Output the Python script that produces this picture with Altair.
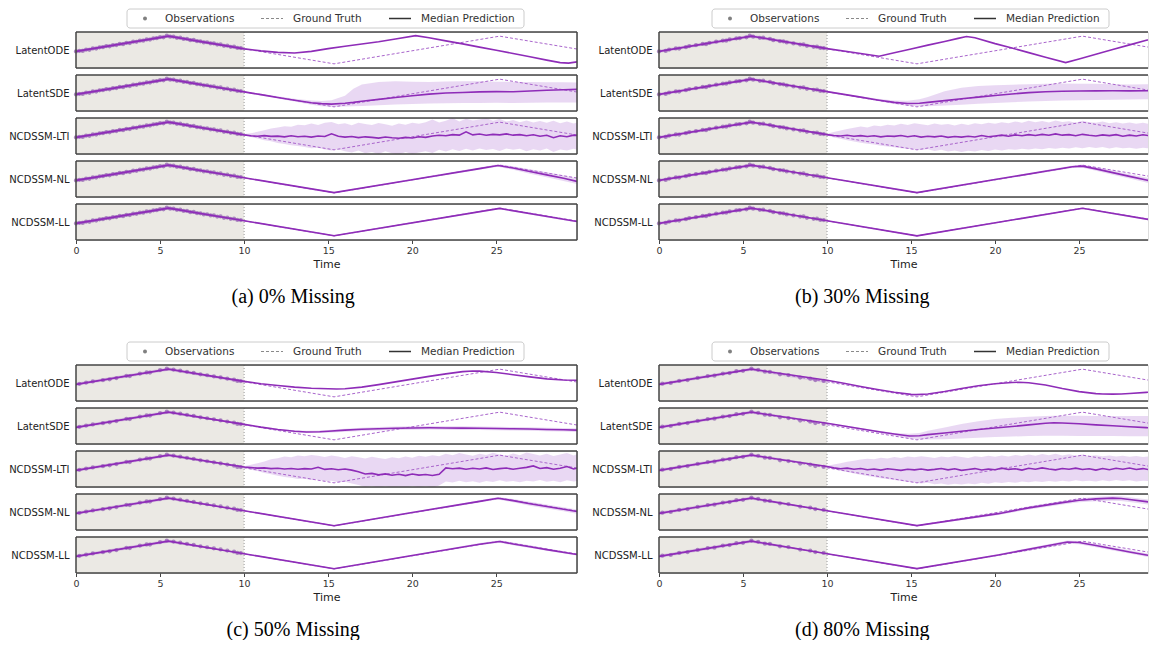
import altair as alt
import pandas as pd

# ---------------- data ----------------
MODELS = ["LatentODE", "LatentSDE", "NCDSSM-LTI", "NCDSSM-NL", "NCDSSM-LL"]
CAPTIONS = ["(a) 0% Missing", "(b) 30% Missing", "(c) 50% Missing", "(d) 80% Missing"]
LEGEND_LABELS = ["Observations", "Ground Truth", "Median Prediction"]
X_TICKS = [0, 5, 10, 15, 20, 25]
Y_DOM = [-1.3, 1.3]
CTX_START, CTX_END = 0.0, 10.0

GT_T = [0.0, 5.5, 15.35, 25.2, 29.8]
GT_V = [-0.12, 1.0, -1.0, 1.0, 0.07]

CTX_T = [0.0, 5.5, 10.0]
CTX_MED = [-0.1, 1.0]
CTX_LO = [-0.22, 0.88, -0.02]
CTX_HI = [0.02, 1.12, 0.2]

OBS_T_0 = [0.0, 0.2, 0.4, 0.6, 0.8, 1.0, 1.2, 1.4, 1.6, 1.8, 2.0, 2.2, 2.4, 2.6, 2.8, 3.0, 3.2, 3.4, 3.6, 3.8,
           4.0, 4.2, 4.4, 4.6, 4.8, 5.0, 5.2, 5.4, 5.6, 5.8, 6.0, 6.2, 6.4, 6.6, 6.8, 7.0, 7.2, 7.4, 7.6, 7.8,
           8.0, 8.2, 8.4, 8.6, 8.8, 9.0, 9.2, 9.4, 9.6, 9.8]
OBS_V_0 = [-0.10, -0.06, -0.07, 0.03, 0.01, 0.11, 0.10, 0.19, 0.20, 0.28,
           0.27, 0.35, 0.36, 0.44, 0.42, 0.52, 0.50, 0.60, 0.59, 0.68,
           0.67, 0.76, 0.75, 0.84, 0.85, 0.93, 0.92, 1.03, 0.96, 0.97,
           0.88, 0.89, 0.80, 0.81, 0.71, 0.73, 0.64, 0.63, 0.55, 0.56,
           0.47, 0.48, 0.39, 0.40, 0.30, 0.32, 0.23, 0.24, 0.15, 0.14]
OBS_T_30 = [0.0, 0.4, 0.6, 1.0, 1.2, 1.6, 1.8, 2.2, 2.6, 2.8, 3.0, 3.4, 3.8, 4.0, 4.2, 4.6, 4.8, 5.2,
            5.4, 5.6, 6.0, 6.2, 6.6, 6.8, 7.2, 7.4, 7.6, 8.0, 8.4, 8.6, 8.8, 9.2, 9.4, 9.6, 9.8]
OBS_V_30 = [-0.10, -0.07, 0.03, 0.11, 0.10, 0.20, 0.28, 0.35, 0.44, 0.42, 0.52, 0.60, 0.68, 0.67, 0.76,
            0.84, 0.85, 0.92, 1.03, 0.96, 0.88, 0.89, 0.81, 0.71, 0.64, 0.63, 0.55, 0.47, 0.39, 0.40,
            0.30, 0.23, 0.24, 0.15, 0.14]
OBS_T_50 = [0.2, 0.6, 1.0, 1.6, 2.0, 2.4, 3.0, 3.2, 3.8, 4.2, 4.4, 5.0, 5.4, 5.8, 6.2, 6.6, 7.0, 7.4,
            7.8, 8.2, 8.6, 9.0, 9.4, 9.6, 9.8]
OBS_V_50 = [-0.06, 0.03, 0.11, 0.20, 0.27, 0.36, 0.52, 0.50, 0.68, 0.76, 0.75, 0.93, 1.03, 0.97, 0.89,
            0.81, 0.73, 0.63, 0.56, 0.48, 0.40, 0.32, 0.24, 0.15, 0.14]
OBS_T_80 = [0.2, 0.7, 1.2, 1.7, 2.3, 2.9, 3.3, 3.8, 4.2, 4.6, 5.0, 5.5, 5.9, 6.3, 6.6, 7.2, 7.7, 8.4,
            9.0, 9.3, 9.8]
OBS_V_80 = [-0.05, 0.0, 0.15, 0.21, 0.37, 0.5, 0.53, 0.68, 0.72, 0.85, 0.88, 1.04, 0.95, 0.82, 0.8,
            0.63, 0.57, 0.39, 0.31, 0.21, 0.15]

T_LTI = [10.0, 10.4, 10.8, 11.2, 11.6, 12.0, 12.4, 12.8, 13.2, 13.6, 14.0, 14.4, 14.8, 15.2, 15.6,
         16.0, 16.4, 16.8, 17.2, 17.6, 18.0, 18.4, 18.8, 19.2, 19.6, 20.0, 20.4, 20.8, 21.2, 21.6,
         22.0, 22.4, 22.8, 23.2, 23.6, 24.0, 24.4, 24.8, 25.2, 25.6, 26.0, 26.4, 26.8, 27.2, 27.6,
         28.0, 28.4, 28.8, 29.2, 29.6, 29.8]

# ---- (a) 0% missing ----
A_ODE_T = [10, 11, 12, 13, 14, 15, 16, 17, 18, 19, 20.2, 21, 22, 23, 24, 25, 26, 27, 28, 28.8, 29.3, 29.8]
A_ODE_M = [0.08, -0.06, -0.17, -0.22, -0.1, 0.1, 0.27, 0.43, 0.6, 0.8, 1.04, 0.88, 0.66, 0.44, 0.21,
           -0.02, -0.25, -0.49, -0.73, -0.91, -0.95, -0.86]
A_SDE_T = [10, 11, 12, 13, 14, 14.6, 15.2, 16, 16.5, 17, 18, 19, 20, 21, 22, 23, 24, 25, 26, 27, 28, 29, 29.8]
A_SDE_M = [0.08, -0.12, -0.32, -0.52, -0.7, -0.77, -0.8, -0.74, -0.68, -0.6, -0.46, -0.32, -0.2, -0.08,
           0.0, 0.04, 0.08, 0.1, 0.09, 0.14, 0.2, 0.23, 0.26]
A_SDE_LO = [0.04, -0.18, -0.4, -0.62, -0.84, -0.95, -1.0, -0.98, -0.96, -0.93, -0.88, -0.83, -0.79, -0.76,
            -0.74, -0.73, -0.72, -0.71, -0.72, -0.7, -0.69, -0.68, -0.68]
A_SDE_HI = [0.12, -0.06, -0.24, -0.42, -0.55, -0.58, -0.52, -0.2, 0.3, 0.62, 0.8, 0.84, 0.82, 0.8, 0.83,
            0.85, 0.84, 0.82, 0.8, 0.8, 0.78, 0.78, 0.76]
A_LTI_M = [0.08, 0.02, -0.02, 0.03, -0.03, -0.01, -0.06, 0.02, -0.05, -0.02,
           -0.08, 0.0, -0.04, 0.16, -0.02, -0.08, -0.04, -0.12, -0.06, -0.1,
           -0.15, -0.07, -0.13, -0.16, -0.1, -0.14, -0.05, -0.1, 0.0, 0.05,
           0.02, 0.1, 0.06, 0.3, 0.08, 0.14, 0.05, 0.12, 0.08, 0.15,
           0.06, 0.1, 0.02, 0.09, -0.02, 0.05, -0.12, 0.02, -0.05, 0.06,
           0.04]
A_LTI_HI = [0.14, 0.2, 0.3, 0.42, 0.55, 0.62, 0.7, 0.66, 0.82, 0.78,
            0.9, 0.8, 0.95, 1.02, 0.85, 0.92, 0.78, 0.96, 0.86, 0.8,
            0.93, 0.84, 0.74, 0.9, 0.82, 0.95, 0.88, 1.0, 1.2, 0.98,
            1.1, 1.3, 1.05, 1.25, 1.12, 1.2, 1.3, 1.1, 1.22, 1.05,
            1.15, 1.0, 1.12, 0.98, 1.08, 0.95, 1.1, 0.92, 1.05, 0.9,
            0.98]
A_LTI_LO = [0.02, -0.08, -0.18, -0.3, -0.38, -0.5, -0.58, -0.66, -0.72, -0.8,
            -0.88, -0.85, -0.98, -1.05, -0.95, -1.1, -1.2, -1.05, -1.25, -1.15,
            -1.3, -1.1, -1.25, -1.35, -1.15, -1.3, -1.2, -1.1, -1.22, -1.0,
            -1.12, -0.95, -1.08, -0.92, -1.05, -0.9, -1.02, -0.94, -1.08, -0.9,
            -1.0, -0.92, -1.1, -0.95, -1.05, -0.9, -1.15, -0.98, -1.05, -0.92,
            -1.0]
A_NL_T = [10, 15.35, 20, 24, 25.1, 26, 27, 28, 29, 29.8]
A_NL_M = [0.09, -0.98, -0.05, 0.75, 0.97, 0.79, 0.54, 0.3, 0.05, -0.17]
A_NL_LO = [0.05, -1.03, -0.11, 0.67, 0.88, 0.66, 0.38, 0.12, -0.14, -0.36]
A_NL_HI = [0.13, -0.93, 0.01, 0.83, 1.06, 0.92, 0.7, 0.48, 0.26, 0.06]
A_LL_T = [10, 15.35, 25.2, 29.8]
A_LL_M = [0.09, -0.99, 0.98, 0.03]
A_LL_LO = [0.05, -1.04, 0.92, -0.03]
A_LL_HI = [0.13, -0.94, 1.04, 0.09]

# ---- (b) 30% missing ----
B_ODE_T = [10, 11.5, 13.1, 14, 15, 16, 17, 17.8, 18.3, 18.8, 20, 21, 22, 23, 24.2, 25, 26, 27, 28, 29, 29.8]
B_ODE_M = [0.1, -0.16, -0.45, -0.2, 0.07, 0.35, 0.62, 0.84, 0.97, 0.88, 0.46, 0.14, -0.19, -0.52, -0.91,
           -0.65, -0.31, 0.03, 0.37, 0.7, 0.96]
B_SDE_T = [10, 11, 12, 13, 14, 14.8, 15.5, 16, 17, 18, 19, 20, 21, 22, 23, 24, 25, 26, 27, 28, 29, 29.8]
B_SDE_M = [0.1, -0.1, -0.3, -0.5, -0.68, -0.76, -0.74, -0.68, -0.55, -0.42, -0.3, -0.18, -0.07, 0.03,
           0.09, 0.13, 0.14, 0.15, 0.16, 0.15, 0.16, 0.15]
B_SDE_LO = [0.06, -0.15, -0.36, -0.58, -0.8, -0.92, -0.96, -0.95, -0.9, -0.84, -0.78, -0.72, -0.66, -0.61,
            -0.57, -0.54, -0.52, -0.5, -0.48, -0.47, -0.46, -0.46]
B_SDE_HI = [0.14, -0.05, -0.24, -0.42, -0.55, -0.56, -0.46, -0.28, 0.12, 0.38, 0.5, 0.56, 0.6, 0.63, 0.66,
            0.68, 0.67, 0.66, 0.64, 0.62, 0.63, 0.62]
B_LTI_M = [0.1, 0.04, 0.0, 0.05, -0.02, 0.03, -0.04, 0.02, -0.06, 0.0,
           -0.03, 0.04, -0.05, 0.02, -0.08, -0.02, -0.06, 0.0, -0.1, -0.04,
           -0.08, -0.02, -0.07, 0.03, -0.05, 0.0, 0.06, -0.02, 0.08, 0.02,
           0.1, 0.04, 0.12, 0.05, 0.15, 0.06, 0.1, 0.02, 0.12, 0.05,
           0.0, 0.08, 0.03, 0.1, -0.02, 0.06, 0.0, 0.09, 0.02, 0.07,
           0.04]
B_LTI_HI = [0.16, 0.28, 0.4, 0.5, 0.6, 0.68, 0.62, 0.75, 0.7, 0.82,
            0.76, 0.88, 0.8, 0.92, 0.84, 0.78, 0.9, 0.82, 0.86, 0.76,
            0.88, 0.8, 0.92, 0.84, 0.95, 0.88, 1.0, 0.92, 1.05, 0.96,
            1.1, 1.0, 1.08, 0.98, 1.12, 1.02, 1.06, 0.96, 1.1, 1.0,
            0.95, 1.05, 0.92, 1.0, 0.9, 0.98, 0.88, 0.96, 0.86, 0.94,
            0.9]
B_LTI_LO = [0.04, -0.1, -0.2, -0.3, -0.4, -0.48, -0.56, -0.62, -0.7, -0.76,
            -0.82, -0.88, -0.92, -0.98, -1.02, -0.96, -1.08, -1.0, -1.12, -1.04,
            -1.15, -1.06, -1.12, -1.02, -1.08, -0.98, -1.04, -0.95, -1.0, -0.92,
            -0.98, -0.9, -0.95, -0.86, -0.92, -0.84, -0.9, -0.82, -0.88, -0.8,
            -0.86, -0.8, -0.9, -0.82, -0.88, -0.84, -0.92, -0.85, -0.9, -0.84,
            -0.88]
B_NL_T = [10, 15.35, 20, 24.6, 25.2, 26, 27, 28, 29, 29.8]
B_NL_M = [0.09, -0.98, -0.04, 0.88, 0.93, 0.73, 0.46, 0.19, -0.07, -0.27]
B_NL_LO = [0.05, -1.03, -0.1, 0.79, 0.82, 0.6, 0.31, 0.03, -0.25, -0.46]
B_NL_HI = [0.13, -0.93, 0.02, 0.97, 1.04, 0.86, 0.61, 0.35, 0.11, -0.08]
B_LL_T = [10, 15.35, 25.2, 29.8]
B_LL_M = [0.09, -1.0, 0.99, 0.05]
B_LL_LO = [0.05, -1.05, 0.93, -0.01]
B_LL_HI = [0.13, -0.95, 1.05, 0.11]

# ---- (c) 50% missing ----
C_ODE_T = [10, 11, 12, 13, 14, 15, 15.5, 16, 17, 18, 19, 20, 21, 22, 23, 23.6, 24, 25, 26, 27, 28, 29, 29.8]
C_ODE_M = [0.12, -0.05, -0.18, -0.3, -0.38, -0.42, -0.43, -0.41, -0.3, -0.12, 0.08, 0.28, 0.48, 0.66,
           0.82, 0.87, 0.86, 0.76, 0.6, 0.44, 0.3, 0.22, 0.2]
C_SDE_T = [10, 11, 12, 13, 13.7, 14.5, 15, 16, 17, 18, 19, 20, 21, 22, 23, 24, 25, 26, 27, 28, 29, 29.8]
C_SDE_M = [0.12, -0.08, -0.25, -0.38, -0.43, -0.42, -0.38, -0.3, -0.24, -0.2, -0.16, -0.14, -0.13, -0.14,
           -0.15, -0.16, -0.18, -0.2, -0.22, -0.25, -0.27, -0.3]
C_SDE_LO = [0.08, -0.13, -0.31, -0.45, -0.51, -0.51, -0.48, -0.41, -0.36, -0.32, -0.29, -0.27, -0.26,
            -0.27, -0.28, -0.29, -0.31, -0.33, -0.35, -0.38, -0.4, -0.43]
C_SDE_HI = [0.16, -0.03, -0.19, -0.31, -0.35, -0.33, -0.28, -0.19, -0.12, -0.08, -0.04, -0.01, 0.0,
            -0.01, -0.02, -0.03, -0.05, -0.07, -0.09, -0.12, -0.14, -0.17]
C_LTI_M = [0.15, 0.1, 0.06, 0.08, 0.03, 0.05, 0.0, 0.04, -0.02, 0.03,
           0.0, 0.12, -0.03, 0.02, -0.05, 0.0, -0.08, -0.2, -0.36, -0.32,
           -0.42, -0.35, -0.45, -0.38, -0.48, -0.36, -0.44, -0.4, -0.47, -0.38,
           0.08, 0.02, 0.06, -0.02, 0.05, 0.0, 0.08, -0.04, 0.03, 0.07,
           -0.02, 0.05, 0.12, 0.22, 0.04, 0.1, -0.02, 0.06, 0.18, 0.0,
           0.05]
C_LTI_HI = [0.2, 0.3, 0.42, 0.55, 0.7, 0.78, 0.9, 0.85, 0.98, 0.92,
            1.02, 0.95, 0.86, 0.98, 0.9, 0.8, 0.92, 0.84, 0.76, 0.88,
            0.8, 0.72, 0.85, 0.78, 0.9, 0.82, 0.95, 0.88, 1.0, 0.92,
            1.1, 1.0, 1.15, 1.05, 0.95, 1.1, 1.02, 1.18, 1.05, 0.96,
            1.12, 1.0, 1.2, 1.08, 0.98, 1.1, 0.94, 1.05, 1.15, 0.98,
            1.06]
C_LTI_LO = [0.08, -0.05, -0.15, -0.28, -0.38, -0.48, -0.58, -0.64, -0.72, -0.7,
            -0.8, -0.76, -0.88, -0.84, -0.95, -0.92, -1.05, -1.15, -1.3, -1.22,
            -1.35, -1.25, -1.35, -1.28, -1.35, -1.22, -1.32, -1.25, -1.35, -1.2,
            -0.9, -0.98, -0.85, -0.95, -0.88, -1.0, -0.86, -0.94, -0.82, -0.92,
            -0.86, -0.96, -0.84, -0.9, -0.8, -0.92, -0.85, -0.95, -0.82, -0.9,
            -0.86]
C_NL_T = [10, 15.35, 20, 24, 25.1, 26, 27, 28, 29, 29.8]
C_NL_M = [0.09, -0.99, -0.04, 0.77, 0.99, 0.82, 0.6, 0.4, 0.2, 0.03]
C_NL_LO = [0.05, -1.04, -0.1, 0.69, 0.9, 0.7, 0.46, 0.25, 0.05, -0.12]
C_NL_HI = [0.13, -0.94, 0.02, 0.85, 1.08, 0.94, 0.74, 0.55, 0.35, 0.18]
C_LL_T = [10, 15.35, 20, 24, 25.2, 26, 27, 28, 29.8]
C_LL_M = [0.09, -0.99, -0.04, 0.78, 0.97, 0.8, 0.6, 0.39, 0.03]
C_LL_LO = [0.05, -1.04, -0.09, 0.7, 0.88, 0.7, 0.5, 0.31, -0.03]
C_LL_HI = [0.13, -0.94, 0.01, 0.86, 1.06, 0.9, 0.7, 0.47, 0.09]

# ---- (d) 80% missing ----
D_ODE_T = [10, 11, 12, 13, 14, 15, 15.3, 16, 17, 18, 19, 20, 21, 21.4, 22, 23, 24, 25, 26, 26.4, 27, 27.5,
           28, 29, 29.8]
D_ODE_M = [0.2, -0.02, -0.25, -0.47, -0.67, -0.82, -0.84, -0.8, -0.62, -0.4, -0.2, -0.05, 0.04, 0.05, 0.02,
           -0.15, -0.4, -0.62, -0.77, -0.79, -0.8, -0.79, -0.76, -0.68, -0.6]
D_SDE_T = [10, 11, 12, 13, 14, 14.9, 15.5, 16, 17, 18, 19, 20, 21, 22, 23, 23.5, 24, 25, 26, 27, 28, 29, 29.8]
D_SDE_M = [0.2, 0.0, -0.2, -0.4, -0.58, -0.72, -0.7, -0.62, -0.5, -0.38, -0.25, -0.14, -0.04, 0.08, 0.2,
           0.24, 0.22, 0.16, 0.08, 0.02, -0.05, -0.12, -0.17]
D_SDE_LO = [0.16, -0.05, -0.26, -0.47, -0.68, -0.9, -0.96, -0.97, -0.95, -0.9, -0.85, -0.8, -0.76, -0.72,
            -0.7, -0.7, -0.71, -0.72, -0.72, -0.73, -0.74, -0.74, -0.75]
D_SDE_HI = [0.24, 0.05, -0.14, -0.33, -0.5, -0.56, -0.5, -0.35, -0.1, 0.15, 0.35, 0.5, 0.6, 0.66, 0.72,
            0.74, 0.74, 0.74, 0.73, 0.72, 0.72, 0.72, 0.72]
D_LTI_M = [0.18, 0.08, 0.02, 0.06, -0.02, 0.04, -0.05, 0.0, -0.08, 0.02,
           -0.04, -0.1, -0.02, -0.06, 0.0, -0.08, -0.03, 0.04, -0.06, 0.02,
           -0.1, -0.04, 0.03, -0.07, 0.0, -0.05, 0.06, -0.03, 0.02, -0.08,
           0.05, -0.02, 0.08, 0.0, -0.06, 0.04, -0.02, 0.06, -0.04, 0.02,
           -0.08, 0.03, -0.05, 0.05, -0.02, 0.07, -0.04, 0.03, -0.06, 0.02,
           0.0]
D_LTI_HI = [0.24, 0.32, 0.42, 0.52, 0.6, 0.68, 0.74, 0.7, 0.82, 0.76,
            0.86, 0.8, 0.9, 0.84, 0.92, 0.86, 0.8, 0.9, 0.84, 0.94,
            0.86, 0.8, 0.92, 0.86, 0.96, 0.88, 0.98, 0.9, 1.02, 0.94,
            1.05, 0.96, 1.08, 1.0, 1.1, 0.98, 1.06, 0.96, 1.04, 0.94,
            1.0, 0.92, 0.98, 0.9, 0.96, 0.88, 0.94, 0.86, 0.92, 0.88,
            0.9]
D_LTI_LO = [0.12, 0.0, -0.12, -0.22, -0.32, -0.42, -0.5, -0.58, -0.66, -0.72,
            -0.8, -0.86, -0.92, -0.98, -1.04, -1.0, -1.1, -1.04, -1.14, -1.06,
            -1.12, -1.04, -1.1, -1.0, -1.06, -0.96, -1.02, -0.94, -1.0, -0.9,
            -0.96, -0.88, -0.94, -0.86, -0.92, -0.84, -0.9, -0.82, -0.88, -0.84,
            -0.9, -0.82, -0.88, -0.8, -0.86, -0.82, -0.9, -0.84, -0.88, -0.82,
            -0.86]
D_NL_T = [10, 15.35, 20.2, 22, 24, 25, 26, 27, 27.5, 28, 29, 29.8]
D_NL_M = [0.09, -0.98, -0.12, 0.3, 0.68, 0.85, 0.95, 1.0, 0.98, 0.9, 0.75, 0.6]
D_NL_LO = [0.05, -1.03, -0.22, 0.18, 0.55, 0.7, 0.78, 0.82, 0.8, 0.72, 0.56, 0.4]
D_NL_HI = [0.13, -0.93, -0.02, 0.42, 0.8, 0.98, 1.1, 1.16, 1.14, 1.06, 0.92, 0.78]
D_LL_T = [10, 15.35, 20.2, 24.3, 25, 26, 27, 28, 29, 29.8]
D_LL_M = [0.09, -0.98, 0.0, 0.94, 0.9, 0.68, 0.45, 0.22, 0.0, -0.16]
D_LL_LO = [0.05, -1.03, -0.08, 0.82, 0.78, 0.56, 0.33, 0.1, -0.12, -0.28]
D_LL_HI = [0.13, -0.93, 0.08, 1.04, 1.02, 0.8, 0.57, 0.34, 0.12, -0.04]

# ---------------- styles ----------------
PURPLE = "#8e2cb8"
GT_COLOR = "#a965cc"
BAND = "#9b4dca"
CTX_BG = "#ebe9e4"
FRAME = "#454545"
OBS_COLOR = "#808080"
OBS_PLOT_COLOR = "#9d74b6"
FONT = "DejaVu Sans"
H = 36

PANELS = [
    dict(cap=CAPTIONS[0], obs=(OBS_T_0, OBS_V_0), width=501, xmax=29.8, right=True, box=51, dx=0,
         rows=[(A_ODE_T, A_ODE_M, None, None), (A_SDE_T, A_SDE_M, A_SDE_LO, A_SDE_HI),
               (T_LTI, A_LTI_M, A_LTI_LO, A_LTI_HI), (A_NL_T, A_NL_M, A_NL_LO, A_NL_HI),
               (A_LL_T, A_LL_M, A_LL_LO, A_LL_HI)]),
    dict(cap=CAPTIONS[1], obs=(OBS_T_30, OBS_V_30), width=489, xmax=29.1, right=False, box=53, dx=-8,
         rows=[(B_ODE_T, B_ODE_M, None, None), (B_SDE_T, B_SDE_M, B_SDE_LO, B_SDE_HI),
               (T_LTI, B_LTI_M, B_LTI_LO, B_LTI_HI), (B_NL_T, B_NL_M, B_NL_LO, B_NL_HI),
               (B_LL_T, B_LL_M, B_LL_LO, B_LL_HI)]),
    dict(cap=CAPTIONS[2], obs=(OBS_T_50, OBS_V_50), width=501, xmax=29.8, right=True, box=51, dx=0,
         rows=[(C_ODE_T, C_ODE_M, None, None), (C_SDE_T, C_SDE_M, C_SDE_LO, C_SDE_HI),
               (T_LTI, C_LTI_M, C_LTI_LO, C_LTI_HI), (C_NL_T, C_NL_M, C_NL_LO, C_NL_HI),
               (C_LL_T, C_LL_M, C_LL_LO, C_LL_HI)]),
    dict(cap=CAPTIONS[3], obs=(OBS_T_80, OBS_V_80), width=489, xmax=29.1, right=False, box=53, dx=-8,
         rows=[(D_ODE_T, D_ODE_M, None, None), (D_SDE_T, D_SDE_M, D_SDE_LO, D_SDE_HI),
               (T_LTI, D_LTI_M, D_LTI_LO, D_LTI_HI), (D_NL_T, D_NL_M, D_NL_LO, D_NL_HI),
               (D_LL_T, D_LL_M, D_LL_LO, D_LL_HI)]),
]


def one():
    return pd.DataFrame({"k": [0]})


def legend_layers(b0):
    ly = -13.5
    out = [
        alt.Chart(one()).mark_rect(fill="white", stroke="#cccccc", strokeWidth=1, cornerRadius=3).encode(
            x=alt.value(b0), x2=alt.value(b0 + 397), y=alt.value(-23), y2=alt.value(-4)),
        alt.Chart(one()).mark_circle(size=16, color=OBS_COLOR, opacity=1).encode(
            x=alt.value(b0 + 18), y=alt.value(ly)),
        alt.Chart(one()).mark_rule(color="#8a8a8a", strokeWidth=1, strokeDash=[3, 2]).encode(
            x=alt.value(b0 + 134), x2=alt.value(b0 + 156), y=alt.value(ly)),
        alt.Chart(one()).mark_rule(color="#333333", strokeWidth=1.5).encode(
            x=alt.value(b0 + 262), x2=alt.value(b0 + 284), y=alt.value(ly)),
    ]
    for lab, off in zip(LEGEND_LABELS, [38, 166, 294]):
        out.append(
            alt.Chart(pd.DataFrame({"label": [lab]})).mark_text(
                align="left", baseline="middle", font=FONT, fontSize=10.5, color="#333333").encode(
                x=alt.value(b0 + off), y=alt.value(ly), text="label:N"))
    return out


def row_chart(p, idx):
    W = p["width"]
    xs = alt.Scale(domain=[0, p["xmax"]], nice=False, zero=False)
    ys = alt.Scale(domain=Y_DOM, nice=False, zero=False)
    t, med, lo, hi = p["rows"][idx]
    is_bottom = idx == len(MODELS) - 1
    if is_bottom:
        xaxis = alt.Axis(values=X_TICKS, title="Time", grid=False, domain=False, tickSize=3.5,
                         tickColor="#444444", labelPadding=2, labelFlush=False, labelFont=FONT,
                         labelFontSize=9.5, labelColor="#333333", titleFont=FONT, titleFontSize=11,
                         titleFontWeight="normal", titleColor="#222222", titlePadding=3, format="d")
    else:
        xaxis = None
    yaxis = alt.Axis(title=MODELS[idx], titleAngle=0, titleAlign="right", titleBaseline="middle",
                     titleX=-7, titleY=H / 2, titleFont=FONT, titleFontSize=10, titleFontWeight="normal",
                     titleColor="#222222", labels=False, ticks=False, domain=False, grid=False)

    def X(f):
        return alt.X(f, scale=xs, axis=xaxis)

    def Y(f):
        return alt.Y(f, scale=ys, axis=yaxis)

    ctx = pd.DataFrame({"a": [CTX_START], "b": [CTX_END]})
    layers = []
    layers.append(alt.Chart(ctx).mark_rect(color=CTX_BG).encode(
        x=X("a:Q"), x2="b:Q", y=alt.value(0), y2=alt.value(H)))
    layers.append(alt.Chart(ctx).mark_rule(color="#9a9a9a", strokeDash=[1, 2], strokeWidth=1).encode(
        x=X("b:Q")))
    obs = pd.DataFrame({"t": p["obs"][0], "v": p["obs"][1]})
    layers.append(alt.Chart(obs).mark_circle(size=18, color=OBS_PLOT_COLOR, opacity=0.85).encode(
        x=X("t:Q"), y=Y("v:Q")))
    if lo is not None:
        band = pd.DataFrame({"t": CTX_T[:-1] + list(t), "lo": CTX_LO[:-1] + list(lo),
                             "hi": CTX_HI[:-1] + list(hi)})
    else:
        band = pd.DataFrame({"t": CTX_T, "lo": CTX_LO, "hi": CTX_HI})
    layers.append(alt.Chart(band).mark_area(color=BAND, opacity=0.22, clip=True).encode(
        x=X("t:Q"), y=Y("lo:Q"), y2="hi:Q"))
    gt = pd.DataFrame({"t": GT_T, "v": GT_V})
    layers.append(alt.Chart(gt).mark_line(color=GT_COLOR, strokeDash=[3, 2], strokeWidth=1, clip=True).encode(
        x=X("t:Q"), y=Y("v:Q")))
    md = pd.DataFrame({"t": CTX_T[:-1] + list(t), "v": CTX_MED + list(med)})
    layers.append(alt.Chart(md).mark_line(color=PURPLE, strokeWidth=1.6, clip=True).encode(
        x=X("t:Q"), y=Y("v:Q")))
    # frame
    layers.append(alt.Chart(one()).mark_rule(color=FRAME, strokeWidth=1.5).encode(
        x=alt.value(0), x2=alt.value(W), y=alt.value(0)))
    layers.append(alt.Chart(one()).mark_rule(color=FRAME, strokeWidth=1.5).encode(
        x=alt.value(0), x2=alt.value(W), y=alt.value(H)))
    layers.append(alt.Chart(one()).mark_rule(color=FRAME, strokeWidth=1.5).encode(
        x=alt.value(0), y=alt.value(0), y2=alt.value(H)))
    if p["right"]:
        layers.append(alt.Chart(one()).mark_rule(color=FRAME, strokeWidth=1.5).encode(
            x=alt.value(W), y=alt.value(0), y2=alt.value(H)))
    if idx == 0:
        layers += legend_layers(p["box"])
    return alt.layer(*layers).properties(width=W, height=H)


def panel(p):
    rows = [row_chart(p, i) for i in range(len(MODELS))]
    return alt.vconcat(*rows, spacing=3).properties(
        title=alt.TitleParams(text=p["cap"], orient="bottom", anchor="middle", font="Liberation Serif",
                              fontSize=20, fontWeight="normal", color="#000000", offset=17, dx=p["dx"]))


top = alt.hconcat(panel(PANELS[0]), panel(PANELS[1]), spacing=12)
bottom = alt.hconcat(panel(PANELS[2]), panel(PANELS[3]), spacing=12)
chart = alt.vconcat(top, bottom, spacing=34).properties(
    padding={"left": 0, "top": 0, "right": 0, "bottom": 0}
).configure_view(strokeOpacity=0).configure(background="white")

chart.save("out.html", embed_options={"renderer": "svg", "actions": False})
